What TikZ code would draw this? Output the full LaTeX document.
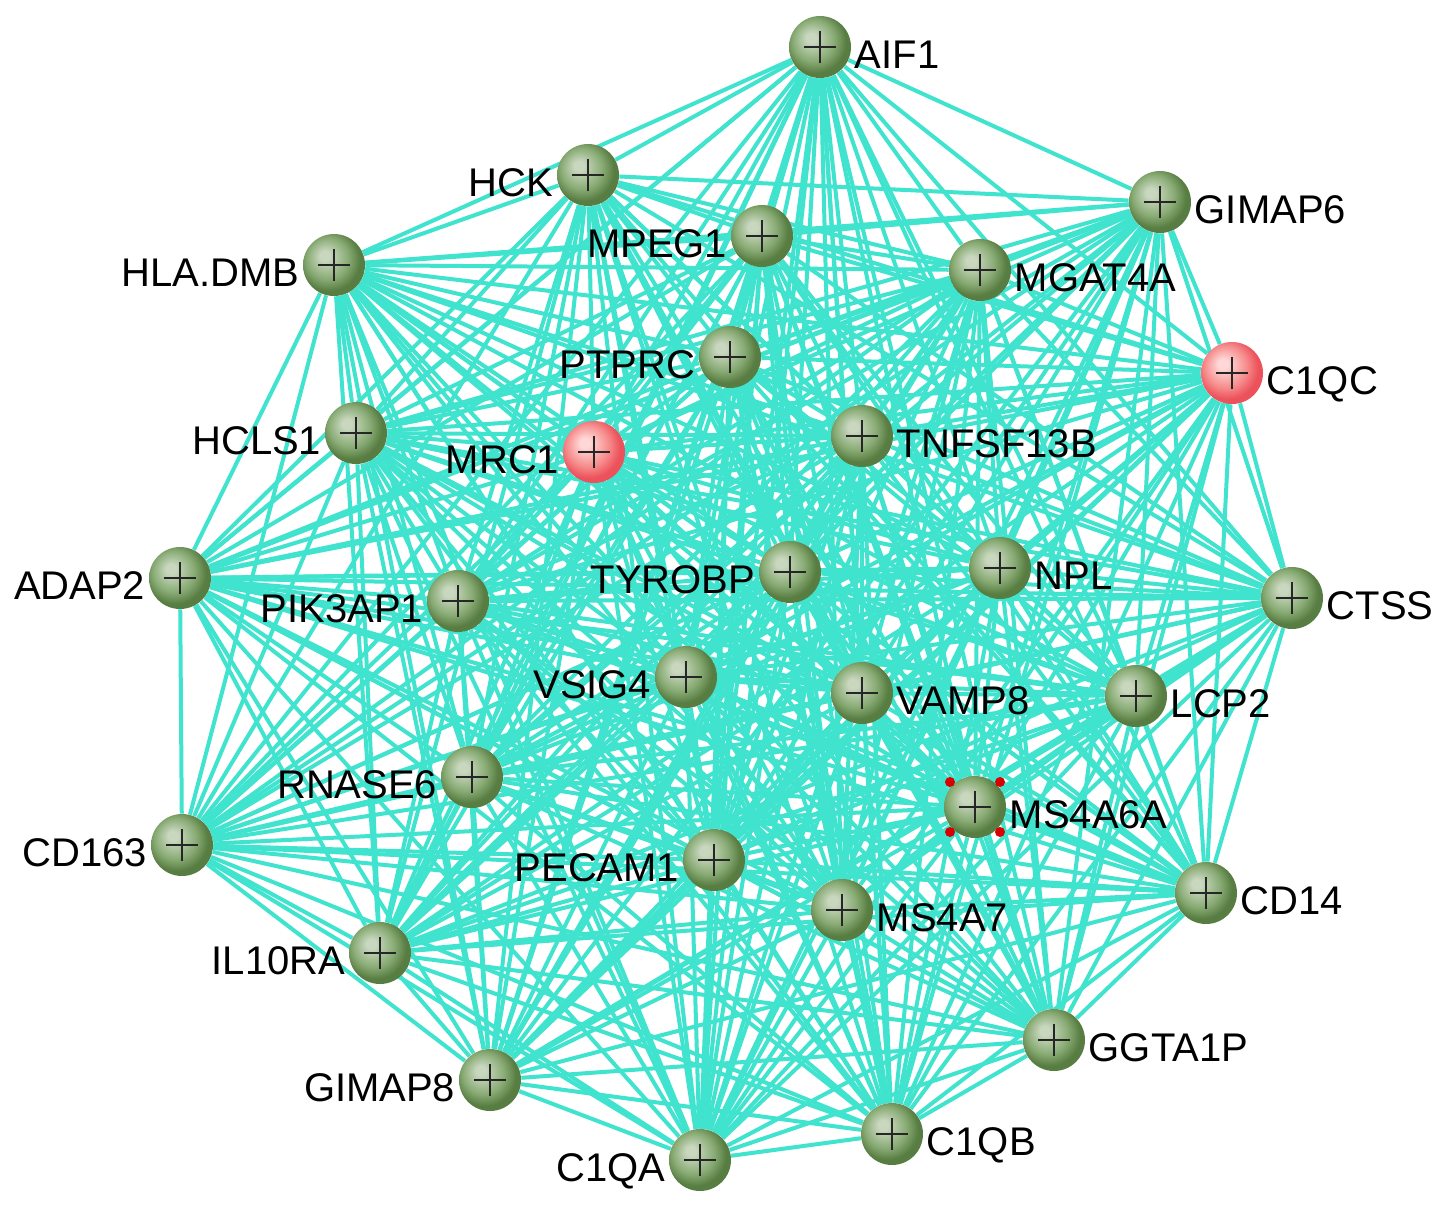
\documentclass[tikz,border=0pt]{standalone}
\usepackage{fontspec}
\setmainfont{Liberation Sans}
\usetikzlibrary{backgrounds}
\definecolor{edgec}{RGB}{64,228,206}
\definecolor{ghi}{RGB}{200,215,190}
\definecolor{gmid}{RGB}{135,170,115}
\definecolor{gdark}{RGB}{88,125,66}
\definecolor{rhi}{RGB}{255,215,215}
\definecolor{rmid}{RGB}{246,140,140}
\definecolor{rdark}{RGB}{236,82,92}
\pgfdeclareradialshading{gball}{\pgfpoint{-8bp}{8bp}}{color(0bp)=(ghi); color(4bp)=(ghi); color(17bp)=(gmid); color(25bp)=(gdark); color(50bp)=(gdark)}
\pgfdeclareradialshading{rball}{\pgfpoint{-8bp}{8bp}}{color(0bp)=(rhi); color(4bp)=(rhi); color(17bp)=(rmid); color(25bp)=(rdark); color(50bp)=(rdark)}
\tikzset{
  sphere/.style={circle, minimum size=31pt, inner sep=0pt, shading=#1},
  lbl/.style={inner sep=0pt, font=\fontsize{20pt}{24pt}\selectfont, text=black},
  edge/.style={draw=edgec, line width=2pt},
  cross/.style={draw=black!85, line width=1pt},
  seldot/.style={circle, fill=red!85!black, inner sep=0pt, minimum size=5pt}
}
\def\nodelist{AIF1/820/47/e/AIF1/gball,
HCK/588/175/w/HCK/gball,
GIMAP6/1160/202/e/GIMAP6/gball,
MPEG1/762/236/w/MPEG1/gball,
HLADMB/334/265/w/HLA.DMB/gball,
MGAT4A/980/270/e/MGAT4A/gball,
PTPRC/730/357/w/PTPRC/gball,
C1QC/1232/373/e/C1QC/rball,
HCLS1/356/433/w/HCLS1/gball,
MRC1/594/452/w/MRC1/rball,
TNFSF13B/862/436/e/TNFSF13B/gball,
TYROBP/790/572/w/TYROBP/gball,
NPL/1000/568/e/NPL/gball,
ADAP2/180/578/w/ADAP2/gball,
PIK3AP1/458/601/w/PIK3AP1/gball,
CTSS/1292/598/e/CTSS/gball,
VSIG4/686/677/w/VSIG4/gball,
VAMP8/862/693/e/VAMP8/gball,
LCP2/1136/696/e/LCP2/gball,
RNASE6/472/777/w/RNASE6/gball,
MS4A6A/975/807/e/MS4A6A/gball,
CD163/182/845/w/CD163/gball,
PECAM1/714/860/w/PECAM1/gball,
CD14/1206/893/e/CD14/gball,
MS4A7/842/910/e/MS4A7/gball,
IL10RA/380/953/w/IL10RA/gball,
GGTA1P/1054/1040/e/GGTA1P/gball,
GIMAP8/490/1080/w/GIMAP8/gball,
C1QB/892/1134/e/C1QB/gball,
C1QA/700/1160/w/C1QA/gball}
\begin{document}
\begin{tikzpicture}[x=0.5pt,y=-0.5pt]
\useasboundingbox (0,0) rectangle (1441,1205);
% nodes
\foreach \n/\x/\y/\s/\t/\c in \nodelist {
  \node[sphere=\c] (\n) at (\x,\y) {};
  \draw[cross] ([xshift=-8pt]\n.center) -- ([xshift=8pt]\n.center);
  \draw[cross] ([yshift=-8pt]\n.center) -- ([yshift=8pt]\n.center);
  \if\s e
    \node[lbl, anchor=base west] (\n-lab) at ([xshift=1.5pt,yshift=-10.5pt]\n.east) {\t};
  \else
    \node[lbl, anchor=base east] (\n-lab) at ([xshift=-1.5pt,yshift=-10.5pt]\n.west) {\t};
  \fi
}
% selection handles on MS4A6A
\foreach \dx/\dy/\k in {-12.5/-12.5/a, 12.5/-12.5/b, -12.5/12.5/c, 12.5/12.5/d}
  \node[seldot] (sel\k) at ([xshift=\dx pt,yshift=\dy pt]MS4A6A.center) {};
% edges: complete graph
\begin{pgfonlayer}{background}
\fill[white] (0,0) rectangle (1441,1205);
\foreach \a/\ax/\ay/\as/\at/\ac [count=\i] in \nodelist {
  \foreach \b/\bx/\by/\bs/\bt/\bc [count=\j] in \nodelist {
    \ifnum\j>\i \draw[edge] (\a) -- (\b); \fi
  }
}
\end{pgfonlayer}
\end{tikzpicture}
\end{document}
